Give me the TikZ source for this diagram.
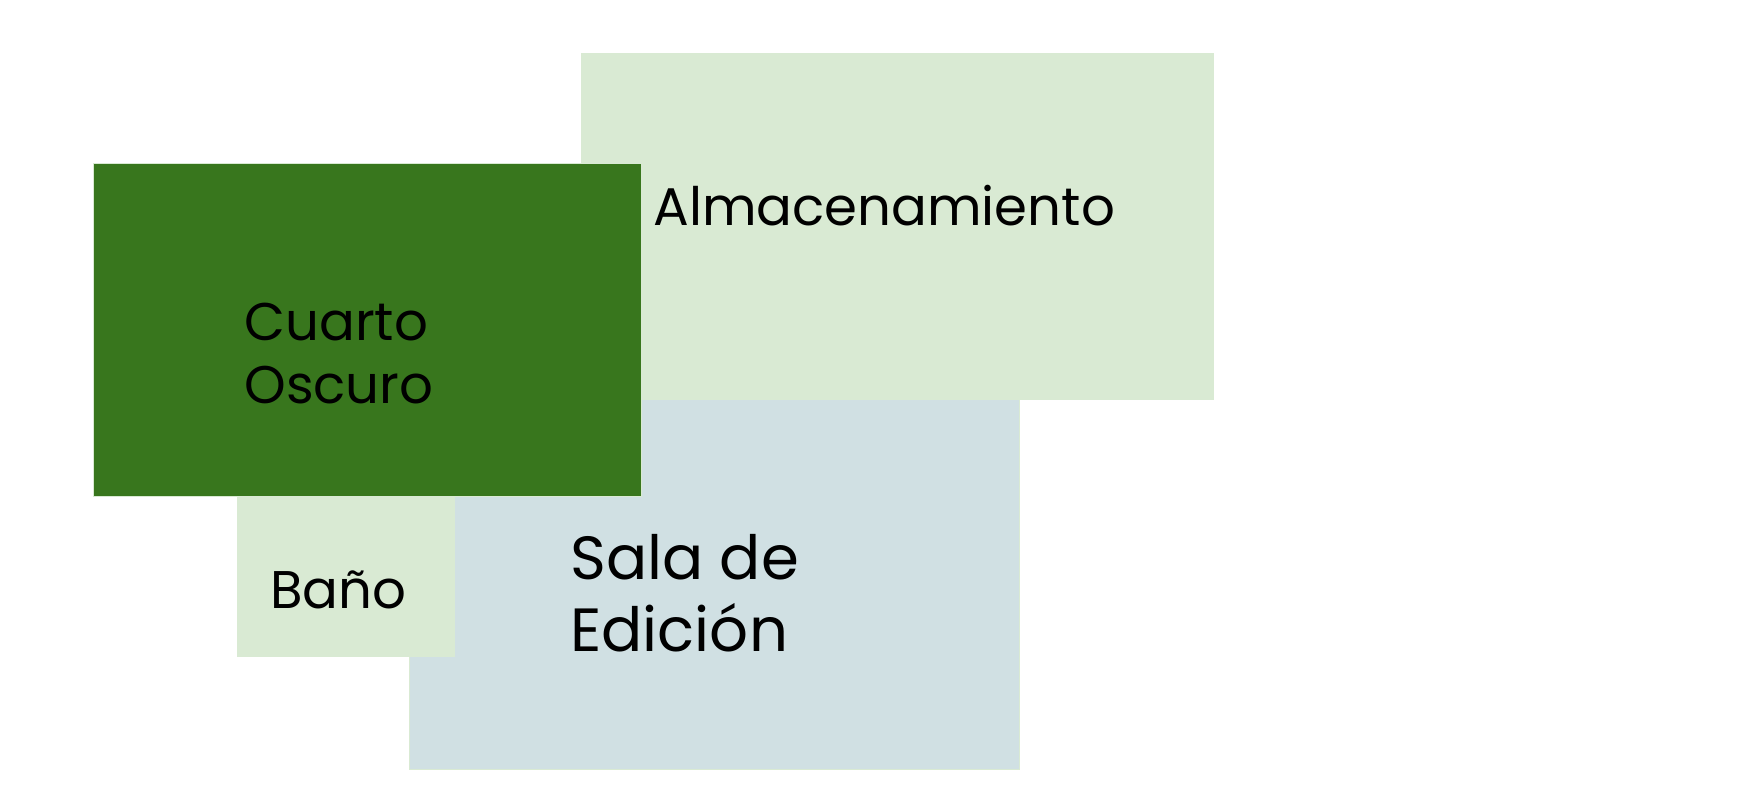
\documentclass[tikz,border=0pt]{standalone}
\usepackage{fontspec}
\setmainfont{Poppins}
\definecolor{lightgreen}{HTML}{D9EAD3}
\definecolor{darkgreen}{HTML}{38761D}
\definecolor{bluegrey}{HTML}{D0E0E3}
\definecolor{edge}{HTML}{D9EAD3}
\tikzset{
  room/.style={draw=edge, line width=0.5pt, anchor=north west, inner sep=0pt, outer sep=0pt},
  label/.style={anchor=base west, inner sep=0pt, font=\fontsize{26.5}{32}\selectfont, text=black},
  biglabel/.style={label, font=\fontsize{30.5}{36}\selectfont}
}
\begin{document}
\begin{tikzpicture}[x=0.5pt,y=-0.5pt]
\useasboundingbox (0,0) rectangle (1747,790);
\fill[white] (0,0) rectangle (1747,790);
\node[room, fill=lightgreen, minimum width=316pt, minimum height=173pt] (alm) at (581,54) {};
\node[room, fill=bluegrey, minimum width=305pt, minimum height=185pt] (sala) at (409,400) {};
\node[room, fill=lightgreen, minimum width=108.5pt, minimum height=80pt] (bano) at (237,497) {};
\node[room, fill=darkgreen, minimum width=274pt, minimum height=166.5pt] (cuarto) at (93,164) {};
\node[label] (almt) at (653,226) {Almacenamiento};
\node[label] (cuartot1) at (244,341) {Cuarto};
\node[label] (cuartot2) at (244,404) {Oscuro};
\node[label] (banot) at (270,609) {Baño};
\node[biglabel] (salat1) at (570,580) {Sala de};
\node[biglabel] (salat2) at (570,652) {Edición};
\end{tikzpicture}
\end{document}
